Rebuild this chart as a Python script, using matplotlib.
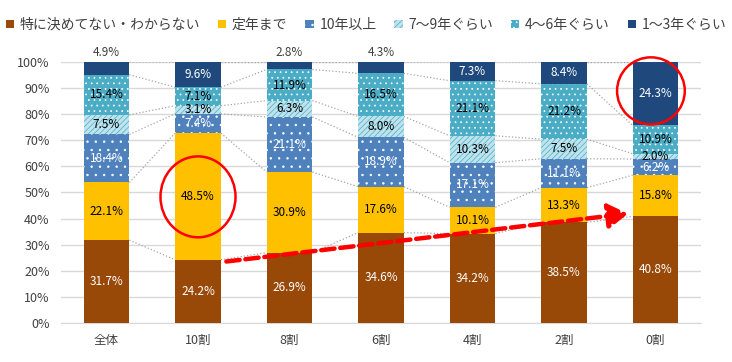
import matplotlib
matplotlib.use("Agg")
import matplotlib.pyplot as plt
from matplotlib.patches import Ellipse, FancyArrowPatch
import numpy as np

plt.rcParams['font.family'] = ['Noto Sans CJK JP', 'DejaVu Sans']
plt.rcParams['hatch.linewidth'] = 0.5

categories = ['全体', '10割', '8割', '6割', '4割', '2割', '0割']
series_names = ['特に決めてない・わからない', '定年まで', '10年以上', '7〜9年ぐらい', '4〜6年ぐらい', '1〜3年ぐらい']
undecided = [31.7, 24.2, 26.9, 34.6, 34.2, 38.5, 40.8]
until_retire = [22.1, 48.5, 30.9, 17.6, 10.1, 13.3, 15.8]
over10 = [18.4, 7.4, 21.1, 18.9, 17.1, 11.1, 6.2]
y7_9 = [7.5, 3.1, 6.3, 8.0, 10.3, 7.5, 2.0]
y4_6 = [15.4, 7.1, 11.9, 16.5, 21.1, 21.2, 10.9]
y1_3 = [4.9, 9.6, 2.8, 4.3, 7.3, 8.4, 24.3]
series = [undecided, until_retire, over10, y7_9, y4_6, y1_3]

colors = ['#984807', '#FFC000', '#4F81BD', '#BFE3EC', '#4BACC6', '#1F497D']
hatch_colors = [None, None, '#FFFFFF', '#4BACC6', '#FFFFFF', None]
hatches = [None, None, '..', '//////', '...', None]
text_colors = ['white', 'black', 'white', 'black', 'black', 'white']
# segments whose label is drawn above the bar
above_labels = {(5, 0), (5, 2), (5, 3)}

fig = plt.figure(figsize=(7.32, 3.62), dpi=100)
ax = fig.add_axes([0.083, 0.108, 0.875, 0.721])

x = np.arange(len(categories))
width = 0.5
bottoms = np.zeros(len(categories))
tops_by_level = []
for si, vals in enumerate(series):
    vals = np.array(vals)
    if hatches[si]:
        ax.bar(x, vals, width, bottom=bottoms, color=colors[si],
               edgecolor=hatch_colors[si], hatch=hatches[si], linewidth=0, zorder=3,
               label=series_names[si])
    else:
        ax.bar(x, vals, width, bottom=bottoms, color=colors[si], linewidth=0,
               zorder=3, label=series_names[si])
    for i, v in enumerate(vals):
        if (si, i) in above_labels:
            ax.text(x[i], 101.2, f'{v:.1f}%', ha='center', va='bottom', fontsize=8.5,
                    color='#404040', zorder=5)
        else:
            ax.text(x[i], bottoms[i] + v / 2, f'{v:.1f}%', ha='center', va='center',
                    fontsize=8.5, color=text_colors[si], zorder=5)
    bottoms = bottoms + vals
    tops_by_level.append(bottoms.copy())

# series connector lines
for lvl in tops_by_level:
    for i in range(len(categories) - 1):
        ax.plot([x[i] + width / 2, x[i + 1] - width / 2], [lvl[i], lvl[i + 1]],
                linestyle=':', color='#A6A6A6', linewidth=0.9, zorder=2)

ax.set_xlim(-0.5, len(categories) - 0.5)
ax.set_ylim(0, 100)
ax.set_yticks(np.arange(0, 101, 10))
ax.set_yticklabels([f'{t}%' for t in range(0, 101, 10)], fontsize=9, color='#404040')
ax.set_xticks(x)
ax.set_xticklabels(categories, fontsize=9, color='#404040')
ax.tick_params(length=0, pad=8)
ax.grid(axis='y', color='#D9D9D9', linewidth=1, zorder=0)
ax.set_axisbelow(True)
for s in ['top', 'right', 'left']:
    ax.spines[s].set_visible(False)
ax.spines['bottom'].set_color('#D9D9D9')

# annotations
e1 = Ellipse((1, 48.3), 0.82, 31, fill=False, edgecolor='#FF0000', linewidth=1.8,
             zorder=6, clip_on=False)
e2 = Ellipse((5.95, 88.9), 0.74, 25.7, fill=False, edgecolor='#FF0000', linewidth=1.8,
             zorder=6, clip_on=False)
ax.add_patch(e1)
ax.add_patch(e2)
arrow = FancyArrowPatch((1.28, 23.4), (5.73, 42.0), arrowstyle='-|>,head_length=8,head_width=5',
                        color='#FF0000', linewidth=3.2, linestyle=(0, (3, 1.3)), zorder=6,
                        mutation_scale=1.5)
ax.add_patch(arrow)

leg = fig.legend(loc='upper center', bbox_to_anchor=(0.5, 0.985), ncol=6, frameon=False,
                 fontsize=10, handlelength=0.6, handleheight=0.6, handletextpad=0.4,
                 columnspacing=1.3)
for t in leg.get_texts():
    t.set_color('#404040')

fig.savefig('out.png', dpi=100)
